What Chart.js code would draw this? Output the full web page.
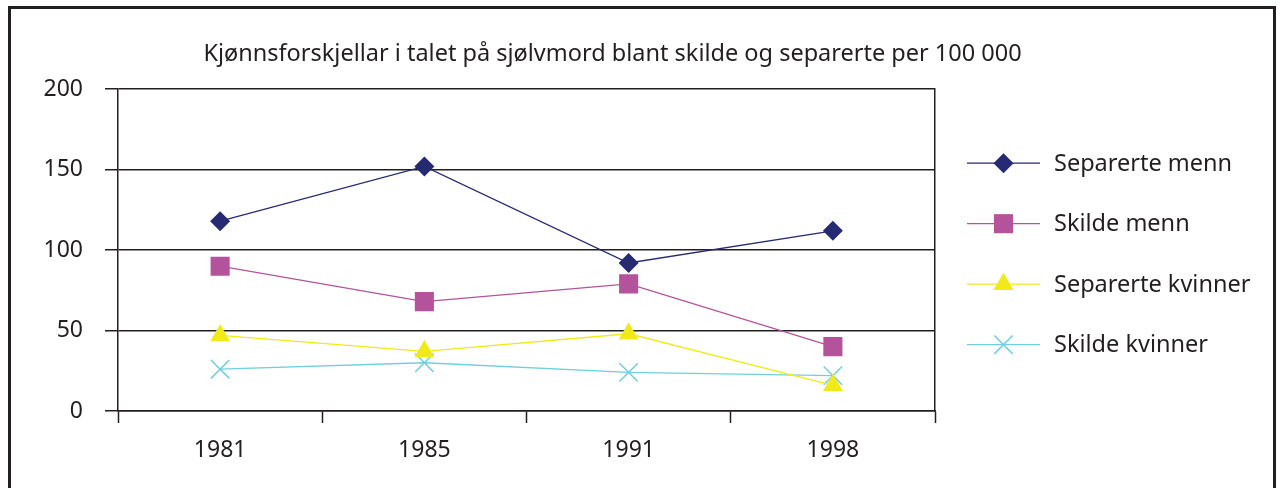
<!DOCTYPE html>
<html>
<head>
<meta charset="utf-8">
<script src="https://cdn.jsdelivr.net/npm/chart.js@4/dist/chart.umd.min.js"></script>
<style>
  html, body { margin: 0; padding: 0; background: #fff; }
  #wrap { position: relative; width: 1283px; height: 488px; overflow: hidden; }
  #frame { position: absolute; left: 8px; top: 6px; width: 1268px; height: 500px; border: 3px solid #231f20; box-sizing: border-box; }
  canvas { position: absolute; left: 0; top: 0; }
</style>
</head>
<body>
<div id="wrap">
  <div id="frame"></div>
  <canvas id="chart" width="1283" height="488"></canvas>
</div>
<script>
const years = ['1981', '1985', '1991', '1998']
const separerteMenn = [118, 152, 92, 112]
const skildeMenn = [90, 68, 79, 40]
const separerteKvinner = [47, 37, 48, 16]
const skildeKvinner = [26, 30, 24, 22]
const yTicks = [0, 50, 100, 150, 200]

const FONT = 'Noto Sans'
const INK = '#231f20'

const series = [
    { label: 'Separerte menn', data: separerteMenn, color: '#262a73', style: 'rectRot', radius: 10 },
    { label: 'Skilde menn', data: skildeMenn, color: '#b5529c', style: 'rect', radius: 13.5 },
    { label: 'Separerte kvinner', data: separerteKvinner, color: '#f2e91a', style: 'triangle', radius: 11.5 },
    { label: 'Skilde kvinner', data: skildeKvinner, color: '#6fcfe0', style: 'crossRot', radius: 13 }
]

// line + marker legend to the right of the plot
const sideLegend = {
    id: 'sideLegend',
    afterDraw(chart) {
        const { ctx, chartArea } = chart
        const x0 = chartArea.right + 32
        const x1 = x0 + 73
        ctx.save()
        chart.data.datasets.forEach((ds, i) => {
            const y = chartArea.top + 74 + i * 60.5
            ctx.strokeStyle = ds.borderColor
            ctx.lineWidth = 1.3
            ctx.beginPath()
            ctx.moveTo(x0, y)
            ctx.lineTo(x1, y)
            ctx.stroke()
            ctx.fillStyle = ds.pointBackgroundColor
            ctx.strokeStyle = ds.pointBorderColor
            ctx.lineWidth = ds.pointBorderWidth
            Chart.helpers.drawPoint(ctx, {
                pointStyle: ds.pointStyle,
                radius: ds.pointRadius,
                rotation: 0,
                borderWidth: ds.pointBorderWidth
            }, (x0 + x1) / 2, y)
            ctx.fillStyle = INK
            ctx.font = '23.5px "' + FONT + '"'
            ctx.textBaseline = 'middle'
            ctx.textAlign = 'left'
            ctx.fillText(ds.label, x1 + 14, y + 1)
        })
        ctx.restore()
    }
}

new Chart(document.getElementById('chart'), {
    type: 'line',
    data: {
        labels: years,
        datasets: series.map(s => ({
            label: s.label,
            data: s.data,
            borderColor: s.color,
            borderWidth: 1.3,
            pointStyle: s.style,
            pointRadius: s.radius,
            pointHoverRadius: s.radius,
            pointBackgroundColor: s.color,
            pointBorderColor: s.color,
            pointBorderWidth: s.style === 'crossRot' ? 1.5 : 0,
            tension: 0
        }))
    },
    options: {
        responsive: false,
        animation: false,
        layout: { padding: { left: 0, right: 58, top: 0, bottom: 0 } },
        plugins: {
            legend: { display: false },
            tooltip: { enabled: false },
            title: {
                display: true,
                text: 'Kjønnsforskjellar i talet på sjølvmord blant skilde og separerte per 100 000',
                color: INK,
                font: { family: FONT, size: 23.5, weight: 'normal' },
                padding: { top: 40, bottom: 21 }
            }
        },
        scales: {
            x: {
                offset: true,
                grid: { offset: true, drawOnChartArea: false, tickLength: 12, tickColor: INK, tickWidth: 1.5 },
                border: { display: true, color: INK, width: 1.5 },
                ticks: { color: INK, padding: 14, font: { family: FONT, size: 23 } },
                afterFit: s => { s.height = 77 }
            },
            y: {
                min: 0,
                max: 200,
                afterBuildTicks: s => { s.ticks = yTicks.map(v => ({ value: v })) },
                grid: { color: INK, lineWidth: 1.5, tickLength: 13 },
                border: { display: true, color: INK, width: 1.5 },
                ticks: { color: INK, padding: 22, font: { family: FONT, size: 23 } },
                afterFit: s => { s.width = 118 }
            },
            yRight: {
                position: 'right',
                min: 0,
                max: 200,
                grid: { display: false },
                border: { display: true, color: INK, width: 1.5 },
                ticks: { display: false },
                afterFit: s => { s.width = 290 }
            }
        }
    },
    plugins: [sideLegend]
})
</script>
</body>
</html>
